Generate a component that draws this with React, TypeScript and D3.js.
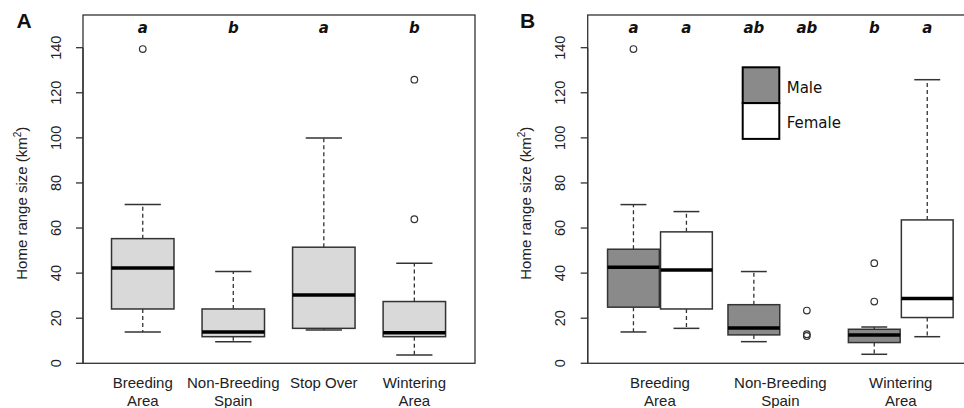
import React from "react";
import * as d3 from "d3";

const W = 964;
const H = 408;

// Panel A – all birds, by area
const areaLinesA = [["Breeding", "Area"], ["Non-Breeding", "Spain"], ["Stop Over"], ["Wintering", "Area"]];
const lettersA = ["a", "b", "a", "b"];
const lowA = [13.9, 9.6, 14.8, 3.7];
const q1A = [24.1, 11.8, 15.5, 11.8];
const medA = [42.3, 13.9, 30.3, 13.5];
const q3A = [55.3, 24.1, 51.5, 27.4];
const highA = [70.4, 40.7, 99.9, 44.4];
const outA = [[139.4], [], [], [63.9, 125.8]];

// Panel B – by area and sex
const areaLinesB = [["Breeding", "Area"], ["Non-Breeding", "Spain"], ["Wintering", "Area"]];
const sexes = ["Male", "Female"];
const lettersMale = ["a", "ab", "b"];
const lettersFemale = ["a", "ab", "a"];
const maleLow = [13.9, 9.6, 4.0];
const maleQ1 = [24.9, 12.6, 9.2];
const maleMed = [42.6, 15.7, 12.6];
const maleQ3 = [50.6, 26.0, 15.1];
const maleHigh = [70.4, 40.7, 16.1];
const maleOut = [[139.4], [], [44.4, 27.4]];
const femaleLow = [15.5, null, 11.8];
const femaleQ1 = [24.1, null, 20.3];
const femaleMed = [41.4, null, 28.7];
const femaleQ3 = [58.3, null, 63.6];
const femaleHigh = [67.3, null, 125.8];
const femaleOut = [[], [23.4, 12.9, 12.1], []];

const yTicks = [0, 20, 40, 60, 80, 100, 120, 140];

const ARIAL = "'Liberation Sans', Arial, sans-serif";
const DEJAVU = "'DejaVu Sans', Verdana, sans-serif";
const LINE = "#333";

const y = d3.scaleLinear().domain([0, 154.5]).range([363.3, 15]);

function Box({ cx, w, low, q1, med, q3, high, out, fill, cap }) {
  return (
    <g>
      {med != null && (
        <g>
          <line x1={cx} x2={cx} y1={y(q3)} y2={y(high)} stroke={LINE} strokeWidth={1.3} strokeDasharray="4,3" />
          <line x1={cx} x2={cx} y1={y(q1)} y2={y(low)} stroke={LINE} strokeWidth={1.3} strokeDasharray="4,3" />
          <line x1={cx - (w * cap) / 2} x2={cx + (w * cap) / 2} y1={y(high)} y2={y(high)} stroke={LINE} strokeWidth={1.5} />
          <line x1={cx - (w * cap) / 2} x2={cx + (w * cap) / 2} y1={y(low)} y2={y(low)} stroke={LINE} strokeWidth={1.5} />
          <rect x={cx - w / 2} y={y(q3)} width={w} height={y(q1) - y(q3)} fill={fill} stroke={LINE} strokeWidth={1.5} />
          <line x1={cx - w / 2} x2={cx + w / 2} y1={y(med)} y2={y(med)} stroke="#000" strokeWidth={3.5} />
        </g>
      )}
      {out.map((v, i) => (
        <circle key={i} cx={cx} cy={y(v)} r={3.3} fill="none" stroke={LINE} strokeWidth={1.2} />
      ))}
    </g>
  );
}

function YAxis({ left, label }) {
  return (
    <g>
      <line x1={left} x2={left} y1={y(0)} y2={y(140)} stroke={LINE} strokeWidth={1.3} />
      {yTicks.map((t) => (
        <g key={t}>
          <line x1={left - 7} x2={left} y1={y(t)} y2={y(t)} stroke={LINE} strokeWidth={1.3} />
          <text
            transform={`translate(${left - 22.3},${y(t)}) rotate(-90)`}
            textAnchor="middle"
            fontFamily={ARIAL}
            fontSize={14.5}
            fill="#222"
          >
            {t}
          </text>
        </g>
      ))}
      <text
        transform={`translate(${left - 56.5},${y(71)}) rotate(-90)`}
        textAnchor="middle"
        fontFamily={ARIAL}
        fontSize={15}
        fill="#222"
      >
        {label}
        <tspan dy={-6} fontSize={10}>2</tspan>
        <tspan dy={6}>)</tspan>
      </text>
    </g>
  );
}

function XLabels({ xs, lines }) {
  return (
    <g fontFamily={ARIAL} fontSize={15} fill="#222" textAnchor="middle">
      {lines.map((ls, i) =>
        ls.map((s, j) => (
          <text key={i + "-" + j} x={xs[i]} y={388 + j * 17.5}>
            {s}
          </text>
        ))
      )}
    </g>
  );
}

export default function App() {
  // Panel A
  const xA = d3.scaleLinear().domain([0.34, 4.67]).range([83, 475]);
  const wA = xA(1.69) - xA(1);
  const centersA = areaLinesA.map((_, i) => xA(i + 1));

  // Panel B (right border falls outside the picture)
  const xB = d3.scaleLinear().domain([0.4, 3.6]).range([587.7, 973]);
  const off = xB(1.22) - xB(1);
  const wB = xB(1.43) - xB(1);
  const groupB = areaLinesB.map((_, i) => xB(i + 1));
  const maleX = groupB.map((g) => g - off);
  const femaleX = groupB.map((g) => g + off);

  const letterStyle = { fontFamily: DEJAVU, fontSize: 15, fontWeight: "bold", fontStyle: "italic" };

  return (
    <svg width={W} height={H} style={{ position: "absolute", left: 0, top: 0, background: "#fff" }}>
      {/* Panel A */}
      <text x={16.5} y={28.3} fontFamily={ARIAL} fontWeight="bold" fontSize={21} fill="#111">A</text>
      <rect x={83} y={15} width={475 - 83} height={y(0) - 15} fill="none" stroke={LINE} strokeWidth={1.3} />
      <YAxis left={83} label="Home range size (km" />
      {centersA.map((cx, i) => (
        <Box
          key={i}
          cx={cx}
          w={wA}
          low={lowA[i]}
          q1={q1A[i]}
          med={medA[i]}
          q3={q3A[i]}
          high={highA[i]}
          out={outA[i]}
          fill="#d9d9d9"
          cap={0.58}
        />
      ))}
      {centersA.map((cx, i) => (
        <text key={i} x={cx} y={32.5} textAnchor="middle" {...letterStyle} fill="#111">{lettersA[i]}</text>
      ))}
      <XLabels xs={centersA} lines={areaLinesA} />

      {/* Panel B */}
      <text x={520} y={28.3} fontFamily={ARIAL} fontWeight="bold" fontSize={21} fill="#111">B</text>
      <rect x={587.7} y={15} width={1000 - 587.7} height={y(0) - 15} fill="none" stroke={LINE} strokeWidth={1.3} />
      <YAxis left={587.7} label="Home range size (km" />
      {groupB.map((_, i) => (
        <g key={i}>
          <Box
            cx={maleX[i]}
            w={wB}
            low={maleLow[i]}
            q1={maleQ1[i]}
            med={maleMed[i]}
            q3={maleQ3[i]}
            high={maleHigh[i]}
            out={maleOut[i]}
            fill="#8a8a8a"
            cap={0.5}
          />
          <Box
            cx={femaleX[i]}
            w={wB}
            low={femaleLow[i]}
            q1={femaleQ1[i]}
            med={femaleMed[i]}
            q3={femaleQ3[i]}
            high={femaleHigh[i]}
            out={femaleOut[i]}
            fill="#fff"
            cap={0.5}
          />
          <text x={maleX[i]} y={32.5} textAnchor="middle" {...letterStyle} fill="#111">{lettersMale[i]}</text>
          <text x={femaleX[i]} y={32.5} textAnchor="middle" {...letterStyle} fill="#111">{lettersFemale[i]}</text>
        </g>
      ))}
      <XLabels xs={groupB} lines={areaLinesB} />

      {/* Legend */}
      {sexes.map((s, i) => (
        <g key={s}>
          <rect
            x={742.7}
            y={67.3 + i * 35.8}
            width={36.6}
            height={35.8}
            fill={i === 0 ? "#8a8a8a" : "#fff"}
            stroke="#000"
            strokeWidth={2}
          />
          <text x={786.7} y={93 + i * 34.5} fontFamily={DEJAVU} fontSize={15} fill="#111">{s}</text>
        </g>
      ))}
    </svg>
  );
}
